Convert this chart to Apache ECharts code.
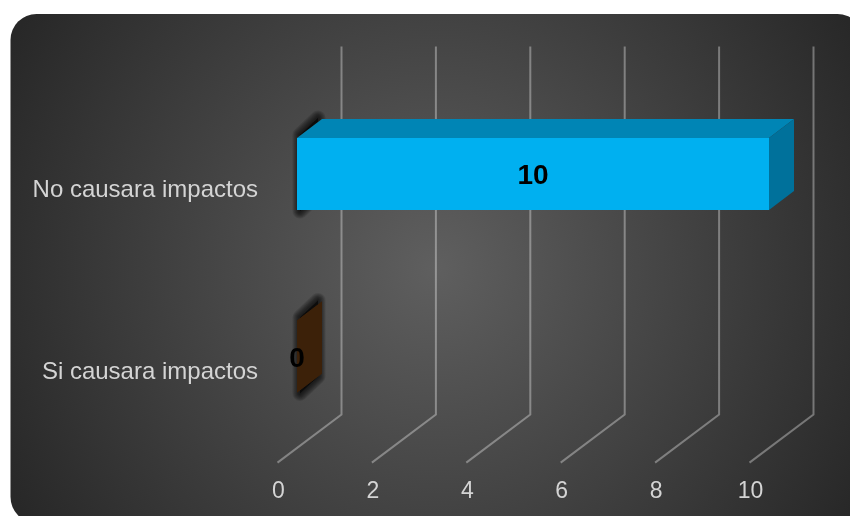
<!DOCTYPE html>
<html>
<head>
<meta charset="utf-8">
<style>html,body{margin:0;padding:0;background:#fff;overflow:hidden}#c{width:850px;height:516px}</style>
<script src="https://cdn.jsdelivr.net/npm/echarts@6/dist/echarts.min.js"></script>
</head>
<body>
<div id="c"></div>
<script>
const categories = ['Si causara impactos', 'No causara impactos'];
const values = [0, 10];
const ticks = [0, 2, 4, 6, 8, 10];

const barFront = ['#3c2109', '#00b0f0'];
const barTop = ['#3c2109', '#0085b5'];
const barSide = ['#3c2109', '#00719b'];

const FONT = '"Liberation Sans", Arial, sans-serif';
const WALL_DX = 64, WALL_DY = -48;
const BAR_DX = 19.5, BAR_DY = -15;
const BAR_H = 72, DEPTH_DX = 25, DEPTH_DY = -19;

const chart = echarts.init(document.getElementById('c'), null, {renderer: 'canvas'});

function gridItem(params, api) {
  const p = api.coord([api.value(0), 0]);
  const x = p[0];
  const yFront = p[1] + api.size([0, 1])[1] / 2;
  const yBase = yFront + WALL_DY;
  const yTop = yBase - 368;
  return {
    type: 'polyline',
    shape: {points: [[x, yFront], [x + WALL_DX, yBase], [x + WALL_DX, yTop]]},
    style: {fill: null, stroke: 'rgba(255,255,255,0.34)', lineWidth: 2}
  };
}

function barItem(params, api) {
  const i = params.dataIndex;
  const c = api.coord([api.value(0), api.value(1)]);
  const z = api.coord([0, api.value(1)]);
  const x0 = z[0] + BAR_DX, x1 = c[0] + BAR_DX;
  const yc = c[1] + BAR_DY;
  const t = yc - BAR_H / 2, b = yc + BAR_H / 2;
  const dx = DEPTH_DX, dy = DEPTH_DY;
  const leftFace = [[x0, t], [x0 + dx, t + dy], [x0 + dx, b + dy], [x0, b]];
  const haloFace = [[x0 + 3, t - 3], [x0 + dx - 4, t + dy - 1], [x0 + dx - 4, b + dy + 3], [x0 + 3, b + 1]];
  const halo = [];
  [15, 13, 11, 9, 7, 5, 3].forEach(function (w) {
    halo.push({type: 'polygon', shape: {points: haloFace},
      style: {fill: 'rgba(0,0,0,0.1)', stroke: 'rgba(0,0,0,0.12)', lineWidth: w, lineJoin: 'round'}});
  });
  return {
    type: 'group',
    children: halo.concat([
      {type: 'polygon', shape: {points: leftFace}, style: {fill: '#3c2109'}},
      {type: 'polygon',
       shape: {points: [[x0, t], [x1, t], [x1 + dx, t + dy], [x0 + dx, t + dy]]},
       style: {fill: barTop[i]}},
      {type: 'polygon',
       shape: {points: [[x1, t], [x1 + dx, t + dy], [x1 + dx, b + dy], [x1, b]]},
       style: {fill: barSide[i]}},
      {type: 'rect',
       shape: {x: x0, y: t, width: x1 - x0, height: b - t},
       style: {fill: barFront[i]}},
      {type: 'text',
       x: (x0 + x1) / 2, y: yc + 2.5,
       style: {text: String(api.value(0)), fill: '#000', font: 'bold 28px ' + FONT, align: 'center', verticalAlign: 'middle'}}
    ])
  };
}

chart.setOption({
  animation: false,
  backgroundColor: 'transparent',
  graphic: [{
    type: 'rect', z: -10, silent: true,
    shape: {x: 10.5, y: 14, width: 853, height: 509, r: 26},
    style: {
      fill: {type: 'radial', global: true, x: 436, y: 268, r: 480,
        colorStops: [{offset: 0, color: '#5f5f5f'}, {offset: 1, color: '#282828'}]}
    }
  }],
  grid: {left: 277.5, right: 100.5, top: 97.8, bottom: 53.4, containLabel: false},
  xAxis: {
    type: 'value', min: 0, max: 10, interval: 2,
    axisLine: {show: false}, axisTick: {show: false}, splitLine: {show: false},
    axisLabel: {color: '#d4d4d4', fontFamily: FONT, fontSize: 23, margin: 18, padding: [0, 0, 0, 2]}
  },
  yAxis: {
    type: 'category', data: categories,
    axisLine: {show: false}, axisTick: {show: false}, splitLine: {show: false},
    axisLabel: {color: '#d4d4d4', fontFamily: FONT, fontSize: 24, margin: 19.5, verticalAlign: 'top', lineHeight: 2}
  },
  series: [
    {type: 'custom', name: 'grid', renderItem: gridItem, silent: true, z: 1,
     encode: {x: 0}, data: ticks.map(t => [t])},
    {type: 'custom', name: 'bars', renderItem: barItem, silent: true, z: 2,
     encode: {x: 0, y: 1}, data: values.map((v, i) => [v, i])}
  ]
});
</script>
</body>
</html>
